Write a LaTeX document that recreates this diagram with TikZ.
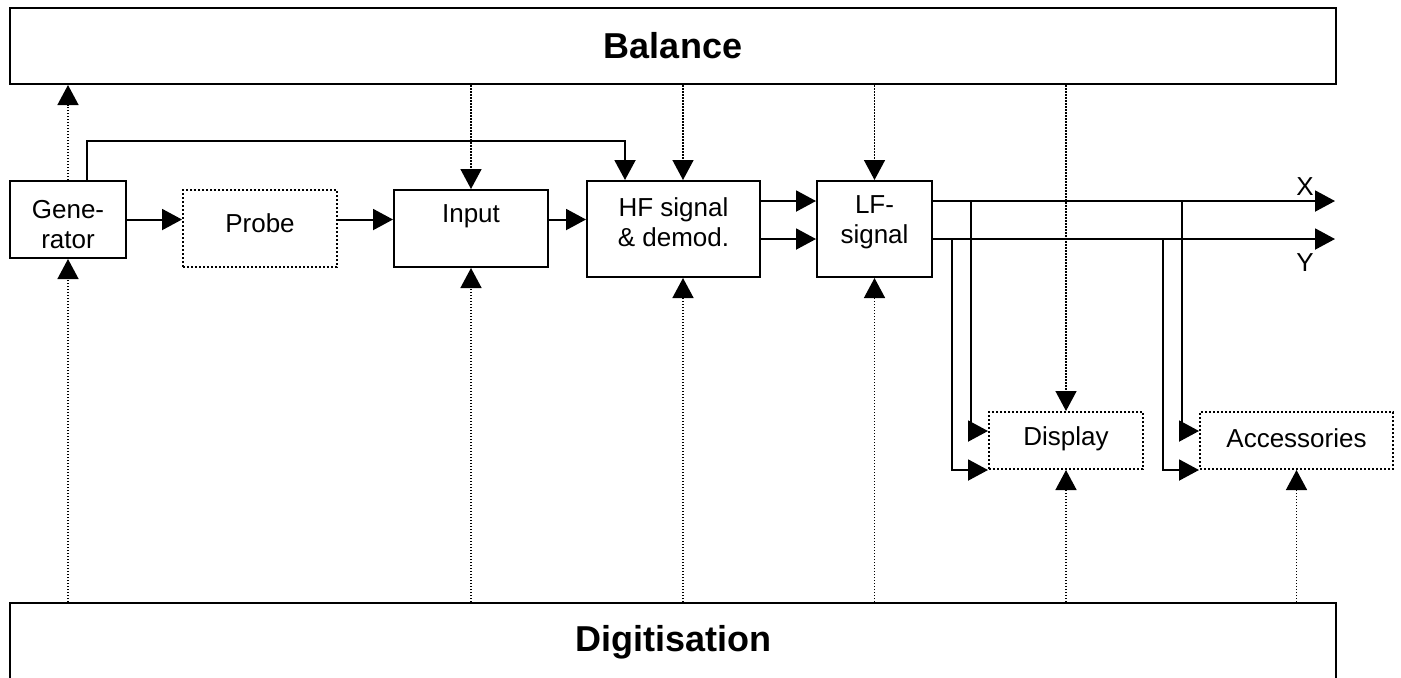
\documentclass[tikz,border=0pt]{standalone}
\usepackage{fontspec}
\setmainfont{Liberation Sans}
\usetikzlibrary{arrows.meta}

\begin{document}
\begin{tikzpicture}[x=0.5pt,y=-0.5pt,
  txt/.style={inner sep=0pt,align=center,font=\fontsize{13}{15}\selectfont},
  box/.style={draw,line width=1pt,inner sep=0pt},
  optbox/.style={box,dash pattern=on 1pt off 1pt},
  bigbox/.style={draw,line width=1pt,minimum width=663pt,font=\fontsize{18}{21}\selectfont\bfseries},
  sig/.style={line width=1pt,-{Triangle[length=10pt,width=10.5pt]}},
  ctl/.style={line width=0.75pt,dash pattern=on 0.75pt off 0.75pt,-{Triangle[length=10pt,width=10.5pt]}}]
\useasboundingbox (0,0) rectangle (1401,677);
\clip (0,0) rectangle (1401,677);
% control units
\node[bigbox,minimum height=38pt] (bal) at (673,46) {Balance};
\node[bigbox,minimum height=39pt] (dig) at (673,642) {Digitisation};
% signal chain
\node[box,minimum width=58pt,minimum height=38.5pt,
  label={[txt,yshift=-2.5pt]center:Gene-\\rator}] (gen) at (68,219.5) {};
\node[optbox,minimum width=77pt,minimum height=38.5pt,
  label={[txt,yshift=2.5pt]center:Probe}] (probe) at (260,228.5) {};
\node[box,minimum width=77pt,minimum height=38.5pt,
  label={[txt,yshift=6pt]center:Input}] (input) at (471,228.5) {};
\node[box,minimum width=86.5pt,minimum height=48pt,
  label={[txt,yshift=3.5pt]center:HF signal\\\& demod.}] (hf) at (673.5,229) {};
\node[box,minimum width=57.5pt,minimum height=48pt,
  label={[txt,yshift=3.5pt]center:LF-\\signal}] (lf) at (874.5,229) {};
\node[optbox,minimum width=77pt,minimum height=28.5pt,
  label={[txt,yshift=1pt]center:Display}] (disp) at (1066,440.5) {};
\node[optbox,minimum width=96.5pt,minimum height=28.5pt,
  label={[txt,yshift=1pt]center:Accessories}] (acc) at (1296.5,440.5) {};
% outputs
\coordinate (xend) at (1335,201); \coordinate (yend) at (1335,239);
\coordinate (dx) at (971,201); \coordinate (dy) at (952,239);
\coordinate (ax) at (1182,201); \coordinate (ay) at (1163,239);
\node[txt] (xlbl) at (1305,187) {X};
\node[txt] (ylbl) at (1305,263) {Y};
\draw[sig] (gen) -- (probe.west |- gen);
\draw[sig] (probe.east |- gen) -- (input.west |- gen);
\draw[sig] (input.east |- gen) -- (hf.west |- gen);
\draw[sig] ([xshift=9.5pt]gen.north) -- ++(0,-39) -| ([xshift=-24.25pt]hf.north);
\draw[sig] ([yshift=14pt]hf.east) -- ([yshift=14pt]lf.west);
\draw[sig] ([yshift=-5pt]hf.east) -- ([yshift=-5pt]lf.west);
\draw[sig] ([yshift=14pt]lf.east) -- (xend);
\draw[sig] ([yshift=-5pt]lf.east) -- (yend);
\draw[sig] (dx) |- ([yshift=4.75pt]disp.west);
\draw[sig] (dy) |- (disp.south west);
\draw[sig] (ax) |- ([yshift=4.75pt]acc.west);
\draw[sig] (ay) |- (acc.south west);
% control lines
\coordinate (hft) at ([xshift=4.75pt]hf.north); \coordinate (hfb) at ([xshift=4.75pt]hf.south);
\draw[ctl] (gen.north) -- (gen.north |- bal.south);
\draw[ctl] (gen.south |- dig.north) -- (gen.south);
\draw[ctl] (input.north |- bal.south) -- (input.north);
\draw[ctl] (input.south |- dig.north) -- (input.south);
\draw[ctl] (hft |- bal.south) -- (hft);
\draw[ctl] (hfb |- dig.north) -- (hfb);
\draw[ctl] (lf.north |- bal.south) -- (lf.north);
\draw[ctl] (lf.south |- dig.north) -- (lf.south);
\draw[ctl] (disp.north |- bal.south) -- (disp.north);
\draw[ctl] (disp.south |- dig.north) -- (disp.south);
\draw[ctl] (acc.south |- dig.north) -- (acc.south);
\end{tikzpicture}
\end{document}
